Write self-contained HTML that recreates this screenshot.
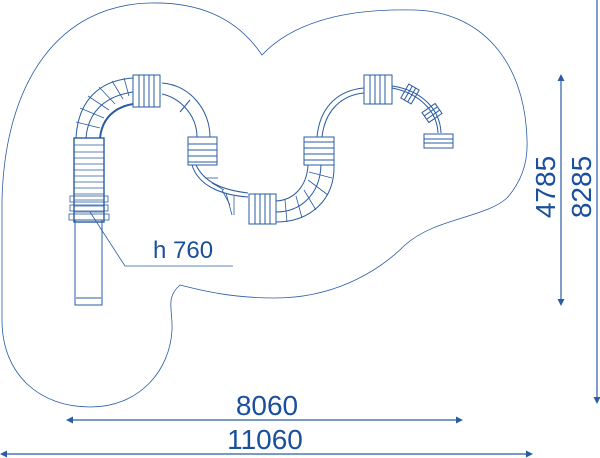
<!DOCTYPE html>
<html><head><meta charset="utf-8"><style>
html,body{margin:0;padding:0;background:#fff;}
svg{display:block;}
text{font-family:"Liberation Sans",sans-serif;fill:#1a4f9c;}
</style></head><body>
<svg width="600" height="458" viewBox="0 0 600 458" xmlns="http://www.w3.org/2000/svg">
<g fill="none" stroke="#2a5ca3" stroke-width="1">
<path d="M262,55 C235,15 195,2 150,3 C60,5 5,80 2,200 L2,320 C2,375 40,407 90,407 C140,407 170,370 172,330 C173,310 165,298 180,285 C200,290 230,298 275,298 C330,298 375,275 405,245 C435,218 485,218 507,198 C523,180 528,160 527,140 C525,60 480,12 415,10 C340,8 290,25 262,55 Z" stroke-width="0.8"/>
</g>
<g fill="none" stroke="#2a5ca3" stroke-width="1">
<rect x="75" y="220" width="27" height="85"/>
<line x1="76" y1="298" x2="101" y2="298"/>
<rect x="74" y="138" width="30" height="84" stroke-width="1.4"/>
<g stroke-width="0.8">
<line x1="74" y1="145" x2="104" y2="145"/><line x1="74" y1="152" x2="104" y2="152"/>
<line x1="74" y1="158" x2="104" y2="158"/><line x1="74" y1="164" x2="104" y2="164"/>
<line x1="74" y1="170" x2="104" y2="170"/><line x1="74" y1="176" x2="104" y2="176"/>
<line x1="74" y1="182" x2="104" y2="182"/><line x1="74" y1="188" x2="104" y2="188"/>
<line x1="74" y1="194" x2="104" y2="194"/><line x1="74" y1="200" x2="104" y2="200"/>
<line x1="74" y1="206" x2="104" y2="206"/><line x1="74" y1="212" x2="104" y2="212"/>
<rect x="70" y="196" width="38" height="6"/><rect x="70" y="205" width="38" height="6"/><rect x="69" y="214" width="40" height="6"/>
</g>
<path d="M76,138 C78,100 100,80 133,78" />
<path d="M86,138 C88,112 105,96 133,92" />
<path d="M100,138 C102,118 115,107 133,104" stroke-width="2"/>
<g stroke-width="0.8">
<line x1="76" y1="122" x2="100" y2="128"/><line x1="80" y1="108" x2="104" y2="118"/>
<line x1="88" y1="96" x2="109" y2="110"/><line x1="99" y1="87" x2="115" y2="104"/>
<line x1="112" y1="81" x2="123" y2="99"/><line x1="124" y1="78" x2="129" y2="96"/>
</g>
<rect x="133" y="75" width="27" height="32"/>
<line x1="139" y1="75" x2="139" y2="107"/><line x1="144" y1="75" x2="144" y2="107"/><line x1="149" y1="75" x2="149" y2="107"/><line x1="154" y1="75" x2="154" y2="107"/>
<path d="M162,83 C190,85 210,110 210,137"/>
<path d="M162,94 C180,98 197,115 197,137"/>
<line x1="190" y1="100" x2="180" y2="112"/>
<rect x="188" y="137" width="29" height="28"/>
<line x1="188" y1="144" x2="217" y2="144"/><line x1="188" y1="150" x2="217" y2="150"/><line x1="188" y1="156" x2="217" y2="156"/><line x1="188" y1="162" x2="217" y2="162"/>
<path d="M192,165 C198,185 220,195 248,197"/>
<path d="M196,165 C204,182 222,190 248,193"/>
<g stroke-width="0.8"><line x1="205" y1="178" x2="218" y2="178"/><line x1="212" y1="183" x2="224" y2="190"/><line x1="222" y1="190" x2="230" y2="205"/><line x1="226" y1="193" x2="232" y2="215"/><line x1="234" y1="196" x2="234" y2="215"/></g>
<rect x="249" y="194" width="27" height="30"/>
<line x1="255" y1="194" x2="255" y2="224"/><line x1="260" y1="194" x2="260" y2="224"/><line x1="265" y1="194" x2="265" y2="224"/><line x1="270" y1="194" x2="270" y2="224"/>
<path d="M276,222 C310,222 335,200 334,165"/>
<path d="M276,212 C300,212 320,195 321,165"/>
<path d="M276,201 C295,200 307,185 308,165"/>
<g stroke-width="0.8"><line x1="285" y1="200" x2="287" y2="222"/><line x1="296" y1="196" x2="302" y2="218"/><line x1="304" y1="190" x2="316" y2="210"/><line x1="308" y1="180" x2="328" y2="195"/><line x1="309" y1="172" x2="332" y2="178"/></g>
<rect x="304" y="137" width="30" height="28"/>
<line x1="304" y1="142" x2="334" y2="142"/><line x1="304" y1="148" x2="334" y2="148"/><line x1="304" y1="154" x2="334" y2="154"/><line x1="304" y1="160" x2="334" y2="160"/>
<path d="M317,137 C320,105 340,90 364,88"/>
<path d="M322,137 C325,110 342,95 364,93"/>
<rect x="364" y="75" width="28" height="29"/>
<line x1="370" y1="75" x2="370" y2="104"/><line x1="375" y1="75" x2="375" y2="104"/><line x1="380" y1="75" x2="380" y2="104"/><line x1="385" y1="75" x2="385" y2="104"/>
<path d="M392,86 C420,90 440,108 441,133"/>
<path d="M392,88 C418,93 437,110 438,133"/>
<g transform="translate(410,94) rotate(30)"><rect x="-6" y="-8" width="12" height="16"/><line x1="-2" y1="-8" x2="-2" y2="8"/><line x1="2" y1="-8" x2="2" y2="8"/></g>
<g transform="translate(432,113) rotate(55)"><rect x="-6" y="-8" width="12" height="16"/><line x1="-2" y1="-8" x2="-2" y2="8"/><line x1="2" y1="-8" x2="2" y2="8"/></g>
<rect x="424" y="134" width="29" height="14"/>
<line x1="424" y1="139" x2="453" y2="139"/><line x1="424" y1="143" x2="453" y2="143"/>
<path d="M90,212 L125,266 L233,266" stroke-width="0.8"/>
</g>
<text x="153" y="258" font-size="24">h 760</text>
<g stroke="#2a5ca3" stroke-width="1.2" fill="#2a5ca3">
<line x1="72" y1="420" x2="457" y2="420"/>
<path d="M66,420 L73,416.5 L73,423.5 Z M463,420 L456,416.5 L456,423.5 Z" stroke="none"/>
<line x1="3" y1="454" x2="530" y2="454"/>
<path d="M0,454 L7,450.5 L7,457.5 Z M533,454 L526,450.5 L526,457.5 Z" stroke="none"/>
<line x1="561" y1="80" x2="561" y2="300"/>
<path d="M561,74 L557.5,81 L564.5,81 Z M561,306 L557.5,299 L564.5,299 Z" stroke="none"/>
<line x1="597" y1="0" x2="597" y2="398"/>
<path d="M597,404 L593.5,397 L600.5,397 Z" stroke="none"/>
</g>
<text x="267" y="415" font-size="28" text-anchor="middle">8060</text>
<text x="265" y="449" font-size="28" text-anchor="middle">11060</text>
<text transform="translate(555,187) rotate(-90)" font-size="28" text-anchor="middle">4785</text>
<text transform="translate(591,187) rotate(-90)" font-size="28" text-anchor="middle">8285</text>
</svg>
</body></html>
